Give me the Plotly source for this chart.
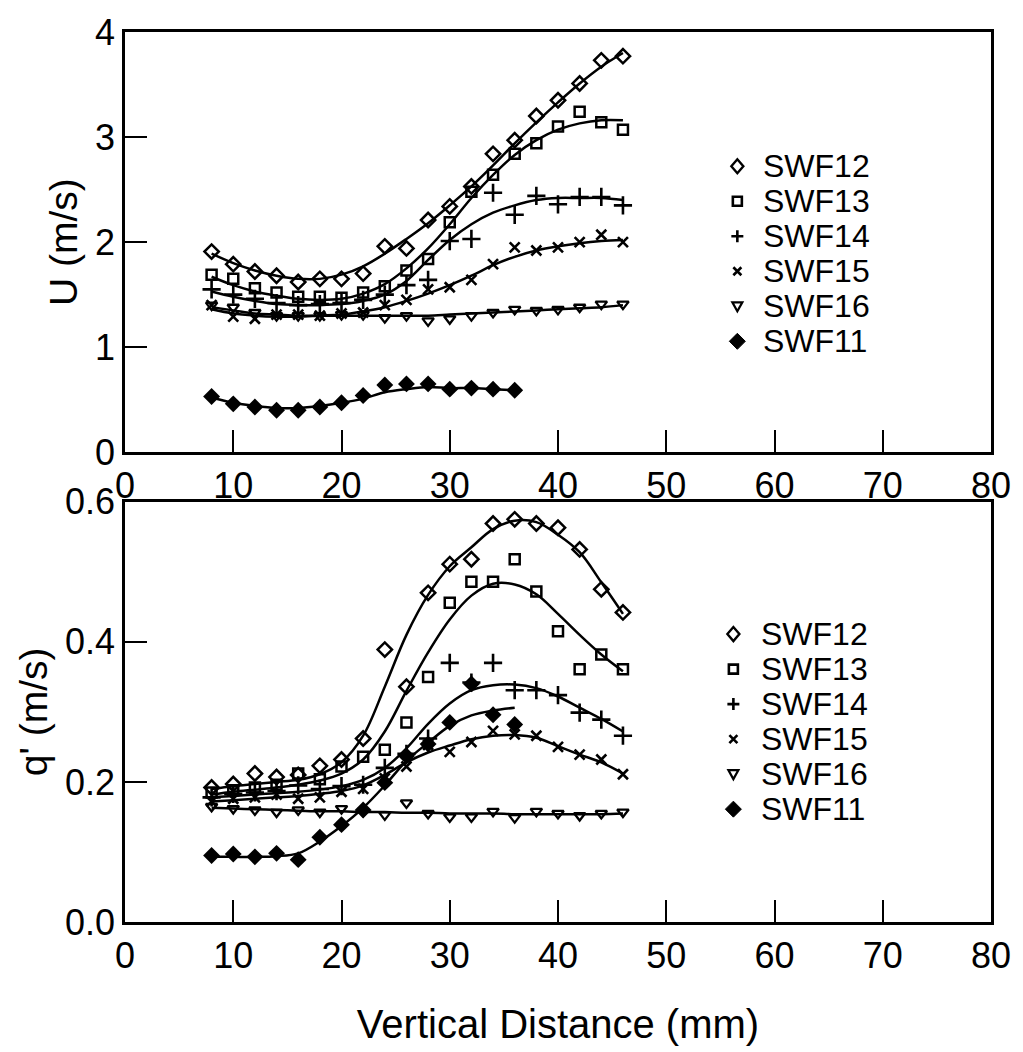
import plotly.graph_objects as go

# ---------------- data ----------------
x_all = [8, 10, 12, 14, 16, 18, 20, 22, 24, 26, 28, 30, 32, 34, 36, 38, 40, 42, 44, 46]
x_swf11 = [8, 10, 12, 14, 16, 18, 20, 22, 24, 26, 28, 30, 32, 34, 36]

series_names = ["SWF12", "SWF13", "SWF14", "SWF15", "SWF16", "SWF11"]

# Mean velocity U (m/s): measured points and smooth fitted curves
u_swf12 = [1.91, 1.79, 1.72, 1.68, 1.62, 1.65, 1.65, 1.70, 1.96, 1.94, 2.21, 2.34, 2.53, 2.84, 2.97, 3.20, 3.35, 3.51, 3.73, 3.77]
u_swf12_fit = [1.89, 1.80, 1.73, 1.68, 1.65, 1.65, 1.69, 1.77, 1.89, 2.03, 2.18, 2.35, 2.53, 2.73, 2.94, 3.14, 3.33, 3.51, 3.67, 3.80]
u_swf13 = [1.69, 1.65, 1.56, 1.52, 1.48, 1.48, 1.47, 1.52, 1.58, 1.73, 1.84, 2.19, 2.48, 2.64, 2.84, 2.94, 3.10, 3.24, 3.14, 3.07]
u_swf13_fit = [1.67, 1.59, 1.53, 1.49, 1.46, 1.45, 1.46, 1.51, 1.60, 1.75, 1.94, 2.17, 2.42, 2.64, 2.83, 2.97, 3.07, 3.13, 3.16, 3.16]
u_swf14 = [1.55, 1.50, 1.46, 1.42, 1.40, 1.41, 1.42, 1.45, 1.50, 1.59, 1.64, 2.01, 2.03, 2.47, 2.26, 2.44, 2.36, 2.43, 2.43, 2.35]
u_swf14_fit = [1.53, 1.48, 1.44, 1.41, 1.40, 1.40, 1.41, 1.44, 1.50, 1.63, 1.83, 2.02, 2.17, 2.28, 2.35, 2.40, 2.42, 2.42, 2.42, 2.40]
u_swf15 = [1.40, 1.29, 1.27, 1.31, 1.31, 1.30, 1.32, 1.33, 1.40, 1.45, 1.55, 1.57, 1.64, 1.79, 1.95, 1.92, 1.95, 2.00, 2.07, 2.00]
u_swf15_fit = [1.36, 1.32, 1.30, 1.29, 1.29, 1.30, 1.31, 1.34, 1.38, 1.44, 1.51, 1.59, 1.68, 1.78, 1.86, 1.92, 1.96, 1.99, 2.01, 2.02]
u_swf16 = [1.40, 1.38, 1.33, 1.30, 1.30, 1.30, 1.31, 1.31, 1.28, 1.30, 1.25, 1.27, 1.30, 1.33, 1.36, 1.35, 1.36, 1.38, 1.41, 1.41]
u_swf16_fit = [1.38, 1.35, 1.32, 1.31, 1.30, 1.30, 1.30, 1.30, 1.30, 1.30, 1.30, 1.31, 1.32, 1.33, 1.34, 1.35, 1.36, 1.37, 1.38, 1.40]
u_swf11 = [0.53, 0.46, 0.43, 0.40, 0.40, 0.43, 0.47, 0.54, 0.64, 0.65, 0.65, 0.60, 0.61, 0.60, 0.59]
u_swf11_fit = [0.52, 0.47, 0.44, 0.42, 0.42, 0.44, 0.47, 0.51, 0.57, 0.60, 0.62, 0.61, 0.61, 0.60, 0.59]

# Turbulence intensity q' (m/s): measured points and smooth fitted curves
q_swf12 = [0.192, 0.197, 0.212, 0.207, 0.210, 0.223, 0.232, 0.262, 0.389, 0.336, 0.470, 0.511, 0.518, 0.569, 0.575, 0.569, 0.563, 0.532, 0.475, 0.442]
q_swf12_fit = [0.190, 0.194, 0.197, 0.200, 0.203, 0.211, 0.228, 0.266, 0.336, 0.410, 0.467, 0.508, 0.535, 0.561, 0.573, 0.571, 0.553, 0.528, 0.485, 0.440]
q_swf13 = [0.185, 0.188, 0.192, 0.196, 0.212, 0.204, 0.222, 0.236, 0.246, 0.285, 0.350, 0.456, 0.486, 0.486, 0.518, 0.472, 0.415, 0.361, 0.382, 0.361]
q_swf13_fit = [0.182, 0.186, 0.189, 0.192, 0.196, 0.202, 0.212, 0.232, 0.272, 0.330, 0.385, 0.432, 0.466, 0.483, 0.482, 0.468, 0.440, 0.410, 0.382, 0.358]
q_swf14 = [0.178, 0.183, 0.185, 0.187, 0.195, 0.190, 0.194, 0.196, 0.220, 0.240, 0.262, 0.370, 0.342, 0.370, 0.331, 0.331, 0.324, 0.299, 0.289, 0.266]
q_swf14_fit = [0.178, 0.180, 0.182, 0.184, 0.186, 0.189, 0.194, 0.203, 0.220, 0.248, 0.283, 0.312, 0.331, 0.338, 0.339, 0.334, 0.322, 0.306, 0.290, 0.272]
q_swf15 = [0.172, 0.176, 0.178, 0.182, 0.176, 0.178, 0.186, 0.190, 0.205, 0.222, 0.253, 0.243, 0.257, 0.273, 0.268, 0.266, 0.250, 0.239, 0.232, 0.211]
q_swf15_fit = [0.172, 0.174, 0.176, 0.178, 0.180, 0.183, 0.187, 0.195, 0.210, 0.228, 0.242, 0.252, 0.261, 0.266, 0.267, 0.263, 0.251, 0.239, 0.228, 0.212]
q_swf16 = [0.165, 0.162, 0.160, 0.157, 0.160, 0.157, 0.162, 0.158, 0.153, 0.170, 0.155, 0.150, 0.150, 0.158, 0.149, 0.158, 0.155, 0.152, 0.155, 0.157]
q_swf16_fit = [0.163, 0.162, 0.161, 0.160, 0.159, 0.158, 0.158, 0.157, 0.157, 0.156, 0.156, 0.155, 0.155, 0.155, 0.154, 0.154, 0.154, 0.154, 0.154, 0.155]
q_swf11 = [0.095, 0.097, 0.093, 0.098, 0.089, 0.121, 0.139, 0.160, 0.199, 0.237, 0.254, 0.285, 0.340, 0.296, 0.282]
q_swf11_fit = [0.093, 0.093, 0.093, 0.094, 0.098, 0.115, 0.137, 0.163, 0.195, 0.230, 0.256, 0.280, 0.295, 0.302, 0.306]

x_ticks = [0, 10, 20, 30, 40, 50, 60, 70, 80]
u_ticks = [0, 1, 2, 3, 4]
q_ticks = [0.0, 0.2, 0.4, 0.6]
q_tick_text = ["0.0", "0.2", "0.4", "0.6"]

# ---------------- styling ----------------
FONT = "Liberation Sans, Arial, Helvetica, sans-serif"
W, H = 1023, 1052
ML, MR, MT, MB = 125, 24, 25, 112
TOP_Y0_PX, BOT_Y1_PX = 457, 508  # pixel rows of top-panel bottom / bottom-panel top

marker_styles = {
    "SWF12": dict(symbol="diamond-open", size=11, color="black", line=dict(width=2.5, color="black")),
    "SWF13": dict(symbol="square-open", size=10, color="black", line=dict(width=2.5, color="black")),
    "SWF14": dict(symbol="cross-thin-open", size=13, color="black", line=dict(width=2.6, color="black")),
    "SWF15": dict(symbol="x-thin-open", size=10, color="black", line=dict(width=2.6, color="black")),
    "SWF16": dict(symbol="triangle-down-open", size=10, color="black", line=dict(width=2.3, color="black")),
    "SWF11": dict(symbol="diamond", size=13, color="black", line=dict(width=0, color="black")),
}

u_data = {
    "SWF12": (x_all, u_swf12, u_swf12_fit),
    "SWF13": (x_all, u_swf13, u_swf13_fit),
    "SWF14": (x_all, u_swf14, u_swf14_fit),
    "SWF15": (x_all, u_swf15, u_swf15_fit),
    "SWF16": (x_all, u_swf16, u_swf16_fit),
    "SWF11": (x_swf11, u_swf11, u_swf11_fit),
}
q_data = {
    "SWF12": (x_all, q_swf12, q_swf12_fit),
    "SWF13": (x_all, q_swf13, q_swf13_fit),
    "SWF14": (x_all, q_swf14, q_swf14_fit),
    "SWF15": (x_all, q_swf15, q_swf15_fit),
    "SWF16": (x_all, q_swf16, q_swf16_fit),
    "SWF11": (x_swf11, q_swf11, q_swf11_fit),
}

fig = go.Figure()

for data, xa, ya in ((u_data, "x", "y"), (q_data, "x2", "y2")):
    for name in series_names:
        xs, pts, fit = data[name]
        fig.add_trace(go.Scatter(x=xs, y=fit, mode="lines", xaxis=xa, yaxis=ya,
                                 line=dict(color="black", width=2.5, shape="spline", smoothing=1.0),
                                 showlegend=False, hoverinfo="skip"))
    for name in series_names:
        xs, pts, fit = data[name]
        fig.add_trace(go.Scatter(x=xs, y=pts, mode="markers", xaxis=xa, yaxis=ya, name=name,
                                 marker=marker_styles[name], showlegend=False))

plot_h = H - MT - MB
top_dom = [(H - MB - TOP_Y0_PX) / plot_h, 1.0]
bot_dom = [0.0, (H - MB - BOT_Y1_PX) / plot_h]

axis_common = dict(showline=True, linecolor="black", linewidth=2.5, mirror=True,
                   ticks="inside", ticklen=22, tickwidth=2, tickcolor="black",
                   showgrid=False, zeroline=False,
                   tickfont=dict(family=FONT, size=36, color="black"))

fig.update_layout(
    width=W, height=H,
    margin=dict(l=ML, r=MR, t=MT, b=MB, pad=0),
    paper_bgcolor="white", plot_bgcolor="white",
    font=dict(family=FONT, color="black"),
    showlegend=False,
    xaxis=dict(axis_common, domain=[0, 1], anchor="y", range=[0, 80],
               tickvals=x_ticks, ticklabelstandoff=0),
    yaxis=dict(axis_common, domain=top_dom, anchor="x", range=[0, 4], tickvals=u_ticks,
               ticklabelstandoff=0,
               title=dict(text="U (m/s)", font=dict(family=FONT, size=39), standoff=6)),
    xaxis2=dict(axis_common, domain=[0, 1], anchor="y2", range=[0, 80],
                tickvals=x_ticks, ticklabelstandoff=0,
                title=dict(text="Vertical Distance (mm)", font=dict(family=FONT, size=40), standoff=36)),
    yaxis2=dict(axis_common, domain=bot_dom, anchor="x2", range=[0, 0.6], tickvals=q_ticks,
                ticktext=q_tick_text, ticklabelstandoff=0,
                title=dict(text="q' (m/s)", font=dict(family=FONT, size=39), standoff=6)),
)

# ---------------- legends (drawn as layout items) ----------------
def px_x(px):
    return (px - ML) / (W - ML - MR)

def px_y(py):
    return (H - MB - py) / plot_h

legend_paths = {
    "SWF12": ("M -6 0 L 0 7 L 6 0 L 0 -7 Z", "rgba(0,0,0,0)", 2.4),
    "SWF13": ("M -4.5 -4.5 L 4.5 -4.5 L 4.5 4.5 L -4.5 4.5 Z", "rgba(0,0,0,0)", 2.6),
    "SWF14": ("M -6 0 L 6 0 M 0 -6 L 0 6", "rgba(0,0,0,0)", 2.6),
    "SWF15": ("M -4 -4 L 4 4 M -4 4 L 4 -4", "rgba(0,0,0,0)", 2.6),
    "SWF16": ("M -5 4 L 5 4 L 0 -5 Z", "rgba(0,0,0,0)", 2.2),
    "SWF11": ("M -8 0 L 0 8 L 8 0 L 0 -8 Z", "black", 1.0),
}

LEGEND_FONT = 32
legend_sets = [
    (743, 767, [163, 199, 235, 271, 307, 343]),
    (739, 765, [644, 680, 716, 752, 788, 824]),
]

for mk_px, txt_px, rows in legend_sets:
    for name, row in zip(series_names, rows):
        path, fill, lw = legend_paths[name]
        fig.add_shape(type="path", xref="paper", yref="paper",
                      xsizemode="pixel", ysizemode="pixel",
                      xanchor=px_x(mk_px), yanchor=px_y(row),
                      path=path, fillcolor=fill, line=dict(color="black", width=lw))
        fig.add_annotation(text=name, xref="paper", yref="paper",
                           x=px_x(txt_px), y=px_y(row), xanchor="left", yanchor="middle",
                           showarrow=False, font=dict(family=FONT, size=LEGEND_FONT, color="black"))

fig.write_html("out.html")
